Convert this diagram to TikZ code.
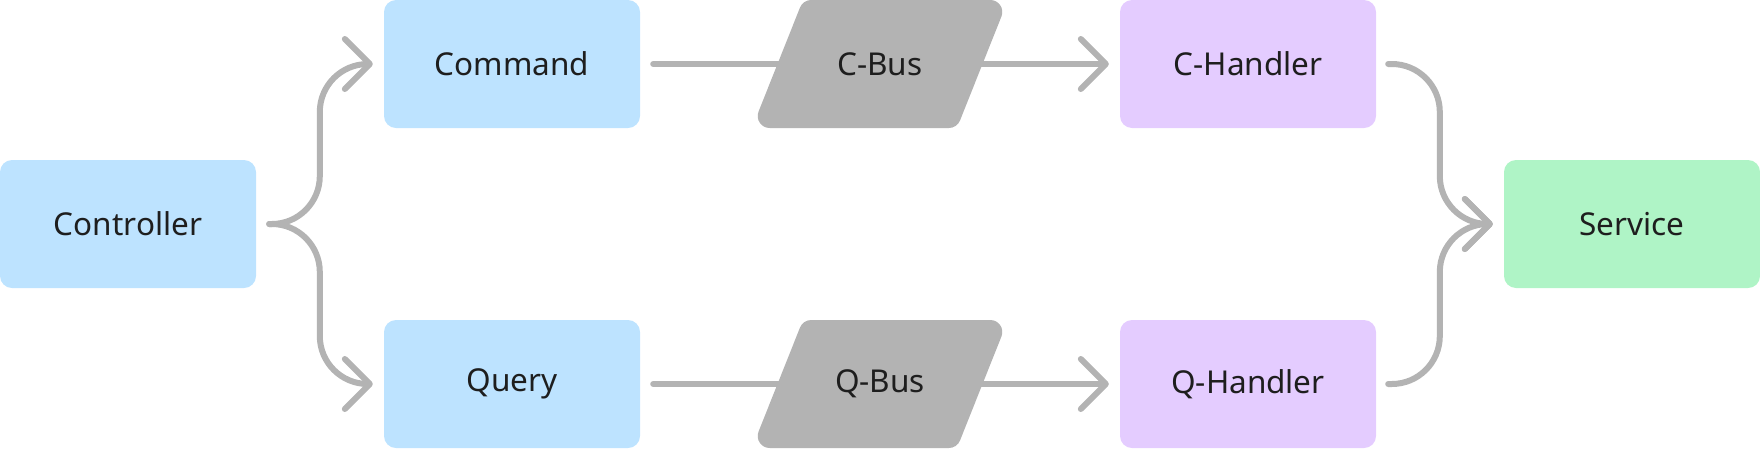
\documentclass[tikz,border=0pt]{standalone}
\usepackage{fontspec}
\setmainfont{Noto Sans}
\usetikzlibrary{arrows.meta,calc,backgrounds}
\definecolor{boxblue}{HTML}{BDE3FF}
\definecolor{boxviolet}{HTML}{E4CCFF}
\definecolor{boxgreen}{HTML}{AFF4C6}
\definecolor{busgray}{HTML}{B3B3B3}
\definecolor{linegray}{HTML}{B3B3B3}
\definecolor{txt}{HTML}{1E1E1E}
\tikzset{
  box/.style={rectangle, rounded corners=12pt, minimum width=256pt, minimum height=128pt,
    inner sep=0pt, text=txt, font=\fontsize{31.5}{36}\selectfont},
  lbl/.style={inner sep=0pt, text=txt, font=\fontsize{31.5}{36}\selectfont},
  conn/.style={draw=linegray, line width=6pt, line cap=round, line join=round},
  arr/.style={conn, -{Straight Barb[length=25pt,width=50pt,round]}},
}
\newcommand\myBusShape[1]{%
  \fill[busgray, shift={(#1)}]
    (-68.9,-64) -- (110.3,-64) .. controls (118.78,-64) and (124.59,-55.43) .. (121.45,-47.56)
    -- (80.0,56.48) .. controls (78.19,61.02) and (73.79,64) .. (68.9,64)
    -- (-110.3,64) .. controls (-118.78,64) and (-124.59,55.43) .. (-121.45,47.56)
    -- (-80.0,-56.48) .. controls (-78.19,-61.02) and (-73.79,-64) .. (-68.9,-64) -- cycle;}
\begin{document}
\begin{tikzpicture}[x=1pt,y=-1pt]
\useasboundingbox (0,0) rectangle (1760,448);
% boxes
\node[box, fill=boxblue] (ctrl) at (128,224) {Controller};
\node[box, fill=boxblue] (cmd) at (512,64) {Command};
\node[box, fill=boxblue] (qry) at (512,384) {Query};
\node[box, fill=boxviolet] (chand) at (1248,64) {C-Handler};
\node[box, fill=boxviolet] (qhand) at (1248,384) {Q-Handler};
\node[box, fill=boxgreen] (svc) at (1632,224) {Service};
% buses
\coordinate (cb) at (880,64);
\coordinate (qb) at (880,384);
\myBusShape{cb}
\myBusShape{qb}
\node[lbl] (cbus) at (cb) {C-Bus};
\node[lbl] (qbus) at (qb) {Q-Bus};
% connectors
\begin{scope}[on background layer]
\draw[arr, rounded corners=48pt] ($(ctrl.east)+(13,0)$) -| ($(cmd.west)+(-64,0)$) -- ($(cmd.west)+(-11,0)$);
\draw[arr, rounded corners=48pt] ($(ctrl.east)+(13,0)$) -| ($(qry.west)+(-64,0)$) -- ($(qry.west)+(-11,0)$);
\draw[conn] ($(cmd.east)+(13,0)$) -- (cbus.center);
\draw[conn] ($(qry.east)+(13,0)$) -- (qbus.center);
\draw[arr] (cbus.center) -- ($(chand.west)+(-11,0)$);
\draw[arr] (qbus.center) -- ($(qhand.west)+(-11,0)$);
\draw[arr, rounded corners=48pt] ($(chand.east)+(12,0)$) -| ($(svc.west)+(-64,0)$) -- ($(svc.west)+(-11,0)$);
\draw[arr, rounded corners=48pt] ($(qhand.east)+(12,0)$) -| ($(svc.west)+(-64,0)$) -- ($(svc.west)+(-11,0)$);
\end{scope}
\end{tikzpicture}
\end{document}
